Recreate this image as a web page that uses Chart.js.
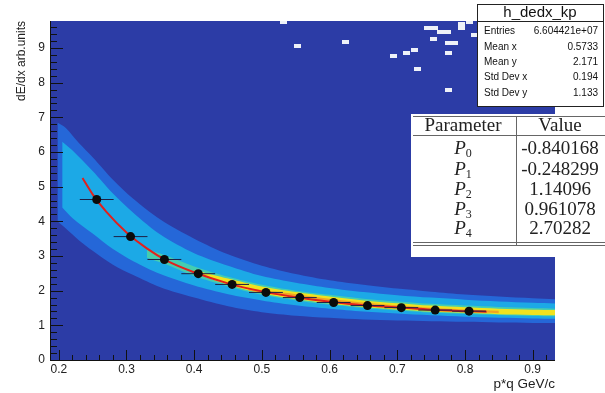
<!DOCTYPE html>
<html>
<head>
<meta charset="utf-8">
<script src="https://cdn.jsdelivr.net/npm/chart.js@4.4.1/dist/chart.umd.min.js"></script>
<style>
html,body{margin:0;padding:0;background:#fff;}
canvas{display:block;}
</style>
</head>
<body>
<canvas id="dedx" width="605" height="393"></canvas>
<script>
const xRange = [0.187, 0.933];
const yRange = [0, 9.78];
const xTicks = [0.2, 0.3, 0.4, 0.5, 0.6, 0.7, 0.8, 0.9];
const yTicks = [0, 1, 2, 3, 4, 5, 6, 7, 8, 9];

// 2D histogram colour bands (lower / upper edge of each colour level)
const outerX  = [0.198, 0.21, 0.23, 0.25, 0.28, 0.31, 0.35, 0.40, 0.45, 0.50, 0.55, 0.60, 0.65, 0.70, 0.75, 0.80, 0.85, 0.90, 0.933];
const outerLo = [4.0, 3.8, 3.45, 3.15, 2.75, 2.45, 2.1, 1.8, 1.55, 1.38, 1.28, 1.22, 1.17, 1.14, 1.12, 1.1, 1.08, 1.07, 1.07];
const outerHi = [6.85, 6.7, 6.25, 5.85, 5.2, 4.65, 4.05, 3.5, 3.05, 2.72, 2.48, 2.3, 2.17, 2.06, 1.97, 1.89, 1.83, 1.78, 1.75];

const cyanX  = [0.205, 0.22, 0.25, 0.28, 0.31, 0.35, 0.40, 0.45, 0.50, 0.55, 0.60, 0.65, 0.70, 0.75, 0.80, 0.85, 0.90, 0.933];
const cyanLo = [4.4, 4.1, 3.65, 3.2, 2.85, 2.48, 2.15, 1.9, 1.72, 1.58, 1.48, 1.4, 1.34, 1.29, 1.25, 1.22, 1.2, 1.19];
const cyanHi = [6.3, 6.05, 5.45, 4.8, 4.25, 3.62, 3.08, 2.72, 2.42, 2.23, 2.08, 1.96, 1.87, 1.8, 1.74, 1.69, 1.65, 1.63];

const greenX  = [0.33, 0.36, 0.40, 0.45, 0.50, 0.55, 0.60, 0.65, 0.70, 0.75, 0.80, 0.85, 0.90, 0.933];
const greenLo = [2.95, 2.75, 2.42, 2.12, 1.88, 1.72, 1.6, 1.5, 1.43, 1.37, 1.33, 1.3, 1.27, 1.26];
const greenHi = [3.2, 3.0, 2.7, 2.4, 2.17, 2.0, 1.88, 1.77, 1.69, 1.62, 1.57, 1.53, 1.5, 1.48];

const yellowX  = [0.40, 0.45, 0.50, 0.55, 0.60, 0.65, 0.70, 0.75, 0.80, 0.85, 0.90, 0.933];
const yellowLo = [2.5, 2.17, 1.92, 1.76, 1.63, 1.53, 1.46, 1.4, 1.36, 1.32, 1.3, 1.29];
const yellowHi = [2.6, 2.35, 2.12, 1.96, 1.83, 1.72, 1.64, 1.57, 1.52, 1.48, 1.45, 1.44];

const orangeX  = [0.48, 0.55, 0.60, 0.65, 0.70, 0.75, 0.80, 0.85];
const orangeLo = [2.0, 1.81, 1.68, 1.57, 1.49, 1.43, 1.39, 1.35];
const orangeHi = [2.06, 1.9, 1.77, 1.66, 1.58, 1.51, 1.46, 1.42];

// sparse single bins near the top
const noiseX = [0.532, 0.745, 0.755, 0.764, 0.774, 0.795, 0.795, 0.754, 0.775, 0.785, 0.814, 0.553, 0.624, 0.694, 0.714, 0.725, 0.775, 0.806, 0.73, 0.775];
const noiseY = [9.75, 9.57, 9.57, 9.45, 9.45, 9.58, 9.68, 9.26, 9.15, 9.15, 9.37, 9.07, 9.16, 8.77, 8.86, 8.94, 8.86, 9.75, 8.4, 7.8];

// fitted curve and profile points
const fitX = [0.235, 0.25, 0.27, 0.30, 0.33, 0.36, 0.40, 0.45, 0.50, 0.55, 0.60, 0.65, 0.70, 0.75, 0.80, 0.832];
const fitY = [5.25, 4.78, 4.28, 3.68, 3.22, 2.86, 2.53, 2.21, 1.98, 1.81, 1.68, 1.58, 1.52, 1.45, 1.41, 1.39];
const profX = [0.256, 0.306, 0.356, 0.406, 0.456, 0.506, 0.556, 0.606, 0.656, 0.706, 0.756, 0.806];
const profY = [4.63, 3.56, 2.90, 2.49, 2.18, 1.95, 1.80, 1.66, 1.57, 1.51, 1.44, 1.41];
const profXErr = 0.025;

const statsTitle = 'h_dedx_kp';
const statsNames = ['Entries', 'Mean x', 'Mean y', 'Std Dev x', 'Std Dev y'];
const statsValues = ['6.604421e+07', '0.5733', '2.171', '0.194', '1.133'];
const paramIndex = ['0', '1', '2', '3', '4'];
const paramValues = ['-0.840168', '-0.248299', '1.14096', '0.961078', '2.70282'];

const plotBlue = '#2c3ca6';

const bandLevels = [
    { x: outerX, lo: outerLo, hi: outerHi, color: '#2567d8' },
    { x: cyanX, lo: cyanLo, hi: cyanHi, color: '#1ca9e6' },
    { x: greenX, lo: greenLo, hi: greenHi, color: '#45cdb0' },
    { x: yellowX, lo: yellowLo, hi: yellowHi, color: '#f0e21f' },
    { x: orangeX, lo: orangeLo, hi: orangeHi, color: '#f3a423' }
];

const datasets = [];
bandLevels.forEach((b, i) => {
    const pts = arr => arr.map((v, k) => ({ x: b.x[k], y: v }));
    datasets.push({ data: pts(b.lo), borderColor: 'rgba(0,0,0,0)', borderWidth: 0, pointRadius: 0, fill: false, tension: 0.3, order: 20 - i });
    datasets.push({ data: pts(b.hi), borderColor: 'rgba(0,0,0,0)', borderWidth: 0, pointRadius: 0, fill: '-1', backgroundColor: b.color, tension: 0.3, order: 20 - i });
});

const binImg = document.createElement('canvas');
binImg.width = 7; binImg.height = 4;
const bctx = binImg.getContext('2d');
bctx.fillStyle = '#eef1f8';
bctx.fillRect(0, 0, 7, 4);

datasets.push({
    data: noiseX.map((x, i) => ({ x, y: noiseY[i] })),
    showLine: false, pointStyle: binImg, pointRadius: 3, order: 12
});

datasets.push({
    data: fitX.map((x, i) => ({ x, y: fitY[i] })),
    borderColor: '#e2201c', borderWidth: 2, pointRadius: 0, fill: false,
    cubicInterpolationMode: 'monotone', order: 3
});

const errPts = [];
profX.forEach((x, i) => {
    errPts.push({ x: x - profXErr, y: profY[i] });
    errPts.push({ x: x + profXErr, y: profY[i] });
    errPts.push({ x: x + profXErr, y: null });
});
datasets.push({ data: errPts, borderColor: '#1d1f45', borderWidth: 1, pointRadius: 0, fill: false, spanGaps: false, order: 2 });

datasets.push({
    data: profX.map((x, i) => ({ x, y: profY[i] })),
    showLine: false, pointRadius: 4.5, pointBackgroundColor: '#0b0b0b', pointBorderColor: '#000', pointBorderWidth: 0, order: 1
});

const rootFrame = {
    id: 'rootFrame',
    beforeDatasetsDraw(chart) {
        const { ctx, chartArea: a } = chart;
        ctx.save();
        ctx.fillStyle = plotBlue;
        ctx.fillRect(a.left, a.top, a.right - a.left, a.bottom - a.top);
        ctx.restore();
    },
    afterDatasetsDraw(chart) {
        const { ctx, chartArea: a } = chart;
        const xs = chart.scales.x, ys = chart.scales.y;
        ctx.save();
        ctx.strokeStyle = '#111';
        ctx.lineWidth = 1;
        ctx.beginPath();
        // inside ticks, ROOT style
        for (let k = 9; k <= 47; k++) {
            const v = k * 0.02;
            if (v < xRange[0] || v > xRange[1]) continue;
            const px = Math.round(xs.getPixelForValue(v)) + 0.5;
            const len = k % 5 === 0 ? 10 : 5;
            ctx.moveTo(px, a.bottom);
            ctx.lineTo(px, a.bottom - len);
        }
        for (let k = 0; k * 0.2 <= yRange[1]; k++) {
            const py = Math.round(ys.getPixelForValue(k * 0.2)) + 0.5;
            const len = k % 5 === 0 ? 13 : 7;
            ctx.moveTo(a.left, py);
            ctx.lineTo(a.left + len, py);
        }
        ctx.moveTo(a.left, a.bottom + 0.5);
        ctx.lineTo(a.right, a.bottom + 0.5);
        ctx.moveTo(a.left + 0.5, a.top);
        ctx.lineTo(a.left + 0.5, a.bottom);
        ctx.stroke();
        ctx.restore();
    },
    afterDraw(chart) {
        const ctx = chart.ctx;
        ctx.save();
        // stats box
        ctx.fillStyle = '#fff';
        ctx.fillRect(477.5, 4.5, 126, 102);
        ctx.strokeStyle = '#222';
        ctx.lineWidth = 1;
        ctx.strokeRect(477.5, 4.5, 126, 102);
        ctx.beginPath();
        ctx.moveTo(477.5, 21.5);
        ctx.lineTo(603.5, 21.5);
        ctx.stroke();
        ctx.fillStyle = '#111';
        ctx.textBaseline = 'middle';
        ctx.font = '15px "Liberation Sans", Arial, sans-serif';
        ctx.textAlign = 'center';
        ctx.fillText(statsTitle, 540, 13);
        ctx.font = '10px "Liberation Sans", Arial, sans-serif';
        const rowY = [31, 47, 62, 77, 93];
        statsNames.forEach((n, i) => {
            ctx.textAlign = 'left';
            ctx.fillText(n, 484, rowY[i]);
            ctx.textAlign = 'right';
            ctx.fillText(statsValues[i], 598, rowY[i]);
        });

        // fit parameter table
        ctx.fillStyle = '#fff';
        ctx.fillRect(411, 114, 194, 143);
        ctx.strokeStyle = '#666';
        ctx.beginPath();
        ctx.moveTo(413, 116.5); ctx.lineTo(605, 116.5);
        ctx.moveTo(413, 135.5); ctx.lineTo(605, 135.5);
        ctx.moveTo(413, 242.5); ctx.lineTo(605, 242.5);
        ctx.moveTo(413, 245.5); ctx.lineTo(605, 245.5);
        ctx.moveTo(516.5, 116); ctx.lineTo(516.5, 245);
        ctx.stroke();
        ctx.fillStyle = '#222';
        ctx.textAlign = 'center';
        ctx.font = '19px "Liberation Serif", "DejaVu Serif", serif';
        ctx.fillText('Parameter', 463, 126);
        ctx.fillText('Value', 560, 126);
        const pY = [149, 170, 190, 210, 229];
        paramIndex.forEach((p, i) => {
            ctx.font = 'italic 19px "Liberation Serif", serif';
            const wP = ctx.measureText('P').width;
            ctx.font = '12px "Liberation Serif", serif';
            const wS = ctx.measureText(p).width;
            const x0 = 463 - (wP + wS) / 2;
            ctx.textAlign = 'left';
            ctx.font = 'italic 19px "Liberation Serif", serif';
            ctx.fillText('P', x0, pY[i]);
            ctx.font = '12px "Liberation Serif", serif';
            ctx.fillText(p, x0 + wP, pY[i] + 5);
            ctx.textAlign = 'center';
            ctx.font = '19px "Liberation Serif", serif';
            ctx.fillText(paramValues[i], 560, pY[i]);
        });
        ctx.restore();
    }
};

new Chart(document.getElementById('dedx'), {
    type: 'line',
    data: { datasets },
    options: {
        responsive: false,
        animation: false,
        layout: { padding: { top: 21, right: 50, left: 0, bottom: 0 } },
        plugins: { legend: { display: false }, tooltip: { enabled: false } },
        scales: {
            x: {
                type: 'linear',
                min: xRange[0], max: xRange[1],
                afterBuildTicks: s => { s.ticks = xTicks.map(v => ({ value: v })); },
                afterFit: s => { s.height = 33; },
                grid: { display: false, drawTicks: false },
                border: { display: false },
                ticks: { color: '#222', padding: 2, maxRotation: 0, autoSkip: false, font: { family: 'Liberation Sans', size: 12 }, callback: v => String(v) },
                title: { display: true, text: 'p*q GeV/c', align: 'end', color: '#222', font: { family: 'Liberation Sans', size: 13.5 }, padding: { top: 0, bottom: 1 } }
            },
            y: {
                type: 'linear',
                min: yRange[0], max: yRange[1],
                afterBuildTicks: s => { s.ticks = yTicks.map(v => ({ value: v })); },
                afterFit: s => { s.width = 50; },
                grid: { display: false, drawTicks: false },
                border: { display: false },
                ticks: { color: '#222', padding: 5, autoSkip: false, font: { family: 'Liberation Sans', size: 12 }, callback: v => String(v) },
                title: { display: true, text: 'dE/dx arb.units', align: 'end', color: '#222', font: { family: 'Liberation Sans', size: 12 }, padding: { top: 14, bottom: 0 } }
            }
        }
    },
    plugins: [rootFrame]
});
</script>
</body>
</html>
